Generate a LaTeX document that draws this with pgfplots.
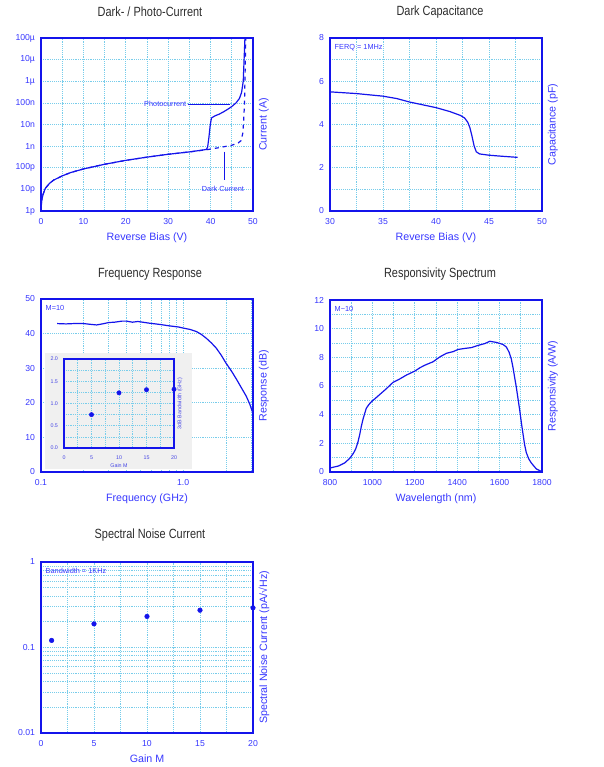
\documentclass[border=0pt]{standalone}
\usepackage{fontspec}
\setmainfont{Liberation Sans}
\usepackage{pgfplots}
\pgfplotsset{compat=1.18}
\definecolor{lblue}{RGB}{55,55,255}
\definecolor{cblue}{RGB}{20,20,235}
\definecolor{gridc}{RGB}{120,205,235}
\definecolor{ttl}{RGB}{45,45,45}
\pgfplotsset{
 myax/.style={scale only axis, anchor=north west,
   axis line style={cblue, line width=1.3pt}, major tick length=0pt, minor tick length=0pt,
   major grid style={gridc, densely dotted, line width=0.5pt},
   minor grid style={gridc, densely dotted, line width=0.5pt},
   tick label style={font=\fontsize{6.5}{7}\selectfont, text=lblue},
   xticklabel style={yshift=-2.2pt},
   yticklabel style={xshift=-1pt},
   /pgf/number format/assume math mode=true,
   label style={font=\fontsize{8}{9}\selectfont, text=lblue},
   ylabel style={at={(axis description cs:1.005,0.5)}, anchor=north},
   xlabel style={yshift=1pt},
 },
 crv/.style={cblue, line width=0.9pt},
}
\newcommand{\ttl}[1]{\scalebox{0.82}[1]{\fontsize{10}{12}\selectfont\color{ttl}#1}}
\begin{document}
\begin{tikzpicture}
\useasboundingbox (0,0) rectangle (452.25pt,-575.25pt);
% titles
\node at (112.5pt,-9pt) {\ttl{Dark- / Photo-Current}};
\node at (330pt,-9pt) {\ttl{Dark Capacitance}};
\node at (112.5pt,-205.5pt) {\ttl{Frequency Response}};
\node at (330pt,-205.5pt) {\ttl{Responsivity Spectrum}};
\node at (112.5pt,-401.25pt) {\ttl{Spectral Noise Current}};

% Panel 1
\begin{axis}[myax, at={(30.75pt,-28.5pt)}, width=159pt, height=129.75pt,
  xmin=0, xmax=50, ymode=log, ymin=1e-12, ymax=1e-4,
  xtick={0,10,...,50}, minor xtick={5,15,...,45},
  ytick={1e-12,1e-11,1e-10,1e-9,1e-8,1e-7,1e-6,1e-5,1e-4},
  yticklabels={1p,10p,100p,1n,10n,100n,1µ,10µ,100µ},
  minor ytick={},
  xmajorgrids, xminorgrids, ymajorgrids,
  xlabel={Reverse Bias (V)}, ylabel={Current (A)}]
\addplot[crv, dashed] coordinates {(0,1e-12)(0.15,3e-12)(0.5,6e-12)(1,1.1e-11)(2,1.9e-11)(3,2.7e-11)(5,4.2e-11)(7,6e-11)(10,8.8e-11)(15,1.45e-10)(20,2.2e-10)(25,3.1e-10)(30,4.2e-10)(35,5.4e-10)(39,6.8e-10)(42,8.5e-10)(45,1.1e-9)(46.5,1.4e-9)(47.2,1.8e-9)(47.6,4e-9)(47.8,1.5e-8)(48,1e-7)(48.1,1e-6)(48.2,1e-5)(48.3,1e-4)};
\addplot[crv] coordinates {(0,1e-12)(0.15,3e-12)(0.5,6e-12)(1,1.1e-11)(2,1.9e-11)(3,2.7e-11)(5,4.2e-11)(7,6e-11)(10,8.8e-11)(15,1.45e-10)(20,2.2e-10)(25,3.1e-10)(30,4.2e-10)(35,5.4e-10)(39,7e-10)(39.3,9e-10)(39.6,2.5e-9)(39.9,9e-9)(40.2,2e-8)(41,2.5e-8)(42,3e-8)(43,3.8e-8)(44,5e-8)(45,6.8e-8)(46,1e-7)(46.8,1.6e-7)(47.3,3e-7)(47.7,1e-6)(47.9,1e-5)(48.1,1e-4)};
\draw[cblue, line width=0.4pt] (axis cs:34.6,9e-8) -- (axis cs:44.6,9e-8);
\node[font=\fontsize{5.5}{6}\selectfont, text=lblue] at (axis cs:29.3,9e-8) {Photocurrent};
\draw[cblue, line width=0.4pt] (axis cs:43.2,5.5e-10) -- (axis cs:43.2,2.7e-11);
\node[font=\fontsize{5.5}{6}\selectfont, text=lblue] at (axis cs:42.9,1.1e-11) {Dark Current};
\end{axis}

% Panel 2
\begin{axis}[myax, at={(247.5pt,-28.5pt)}, width=159pt, height=129.75pt,
  xmin=30, xmax=50, ymin=0, ymax=8,
  xtick={30,35,...,50}, minor xtick={32.5,37.5,...,47.5},
  ytick={0,2,...,8}, minor ytick={1,3,5,7},
  grid=both,
  xlabel={Reverse Bias (V)}, ylabel={Capacitance (pF)}]
\addplot[crv] coordinates {(30,5.51)(32.5,5.43)(35,5.31)(36.3,5.2)(37.5,5.04)(40,4.78)(41.3,4.6)(42.3,4.42)(42.7,4.3)(43,4.1)(43.2,3.85)(43.4,3.45)(43.6,3.0)(43.8,2.74)(44.1,2.64)(45,2.58)(46,2.54)(47.7,2.48)};
\node[anchor=north west, font=\fontsize{5.5}{6}\selectfont, text=lblue] at (rel axis cs:0.0,0.99) {FERQ = 1MHz};
\end{axis}

% Panel 3
\begin{axis}[myax, at={(30.75pt,-224.25pt)}, width=159pt, height=129.75pt,
  xmode=log, xmin=0.1, xmax=3.1, ymin=0, ymax=50,
  xtick={0.1,1}, xticklabels={0.1,1.0},
  minor xtick={0.2,0.3,0.4,0.5,0.6,0.7,0.8,0.9,2,3},
  ytick={0,10,...,50},
  xmajorgrids, xminorgrids, ymajorgrids,
  xlabel={Frequency (GHz)}, ylabel={Response (dB)}]
\addplot[crv] coordinates {(0.13,42.9)(0.15,42.8)(0.17,42.9)(0.2,42.9)(0.22,42.7)(0.246,42.5)(0.27,42.8)(0.3,43.2)(0.33,43.3)(0.37,43.6)(0.4,43.6)(0.44,43.3)(0.48,43.5)(0.52,43.3)(0.58,43.0)(0.64,42.8)(0.7,42.6)(0.78,42.3)(0.85,42.1)(0.93,41.9)(1.0,41.6)(1.12,41.2)(1.24,40.6)(1.35,39.7)(1.46,38.6)(1.58,37.3)(1.71,35.8)(1.85,33.8)(2.0,31.5)(2.2,29.0)(2.38,26.7)(2.58,24.2)(2.78,21.9)(2.95,19.5)(3.1,16.9)};
\node[anchor=north west, font=\fontsize{5.5}{6}\selectfont, text=lblue] at (rel axis cs:0.0,0.99) {M=10};
\end{axis}
\fill[gray!12] (33.75pt,-264.75pt) rectangle (144pt,-351.75pt);
\begin{axis}[myax, at={(48pt,-269.25pt)}, width=82.5pt, height=66.75pt,
  axis line style={cblue, line width=0.9pt},
  xmin=0, xmax=20, ymin=0, ymax=2,
  xtick={0,5,...,20}, minor xtick={2.5,7.5,...,17.5},
  ytick={0,0.5,...,2}, minor ytick={0.25,0.75,...,1.75},
  yticklabels={0.0,0.5,1.0,1.5,2.0},
  grid=both,
  tick label style={font=\fontsize{4}{4.5}\selectfont, text=lblue!80!gray},
  xticklabel style={yshift=0pt},
  label style={font=\fontsize{4}{4.5}\selectfont, text=lblue!80!gray},
  xlabel style={yshift=3pt},
  ylabel style={at={(axis description cs:0.99,0.5)}},
  xlabel={Gain M}, ylabel={3dB Bandwidth (GHz)}]
\addplot[only marks, mark=*, mark size=1.6pt, cblue] coordinates {(5,0.75)(10,1.24)(15,1.31)(20,1.32)};
\end{axis}

% Panel 4
\begin{axis}[myax, at={(247.5pt,-225pt)}, width=159pt, height=129pt,
  xmin=800, xmax=1800, ymin=0, ymax=12,
  xtick={800,1000,...,1800}, minor xtick={900,1100,...,1700},
  ytick={0,2,...,12}, minor ytick={1,3,...,11},
  grid=both, xticklabel style={/pgf/number format/set thousands separator={}},
  xlabel={Wavelength (nm)}, ylabel={Responsivity (A/W)}]
\addplot[crv] coordinates {(800,0.28)(840,0.42)(869,0.63)(893,0.95)(910,1.3)(921,1.6)(932,2.1)(940,2.6)(948,3.2)(956,3.7)(964,4.1)(971,4.44)(983,4.7)(995,4.9)(1015,5.15)(1034,5.4)(1065,5.8)(1097,6.25)(1130,6.5)(1160,6.76)(1200,7.04)(1225,7.28)(1247,7.45)(1286,7.69)(1318,8.03)(1349,8.28)(1381,8.4)(1404,8.55)(1435,8.62)(1467,8.68)(1500,8.84)(1530,8.96)(1554,9.12)(1585,9.04)(1616,8.9)(1632,8.72)(1645,8.35)(1655,7.9)(1663,7.3)(1671,6.6)(1679,5.9)(1687,5.1)(1695,4.3)(1703,3.4)(1710,2.7)(1718,1.9)(1726,1.35)(1738,0.9)(1750,0.62)(1773,0.22)(1800,0.02)};
\node[anchor=north west, font=\fontsize{5.5}{6}\selectfont, text=lblue] at (rel axis cs:0.0,0.99) {M\textasciitilde10};
\end{axis}

% Panel 5
\begin{axis}[myax, at={(30.75pt,-421.5pt)}, width=159pt, height=128.25pt,
  xmin=0, xmax=20, ymode=log, ymin=0.01, ymax=1,
  xtick={0,5,...,20}, minor xtick={2.5,7.5,...,17.5},
  ytick={0.01,0.1,1}, yticklabels={0.01,0.1,1},
  grid=both,
  xlabel={Gain M}, ylabel={Spectral Noise Current (pA/√Hz)}]
\addplot[only marks, mark=*, mark size=1.7pt, cblue] coordinates {(1,0.121)(5,0.189)(10,0.231)(15,0.273)(20,0.291)};
\node[anchor=north west, font=\fontsize{5.5}{6}\selectfont, text=lblue] at (rel axis cs:0.0,0.99) {Bandwidth = 1KHz};
\end{axis}
\end{tikzpicture}
\end{document}
